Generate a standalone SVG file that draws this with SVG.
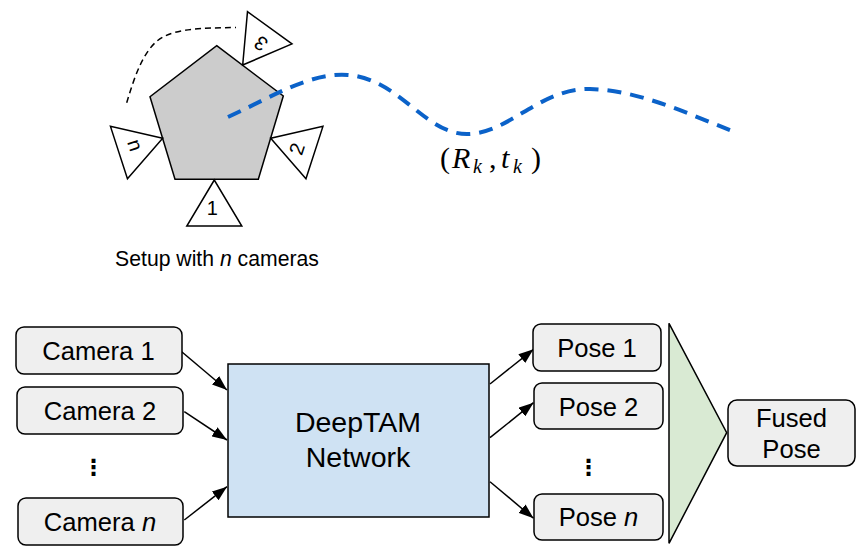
<svg xmlns="http://www.w3.org/2000/svg" width="868" height="560" viewBox="0 0 868 560">
<style>
.box{fill:#efefef;stroke:#000;stroke-width:1.5}
.lbl{font-family:"Liberation Sans",Arial,sans-serif;font-size:25.6px;fill:#000;text-anchor:middle}
.big{font-size:28.5px}
.tri{fill:#fff;stroke:#000;stroke-width:1.5}
.tl{font-family:"Liberation Sans",Arial,sans-serif;font-size:20px;fill:#000;text-anchor:middle}
.arr{stroke:#000;stroke-width:1.5;fill:none;marker-end:url(#ah)}
.dots{font-family:"DejaVu Sans",sans-serif;font-size:22px;font-weight:bold;fill:#000;text-anchor:middle}
.m{font-family:"Liberation Serif","Times New Roman",serif;fill:#000;font-size:30px}
.mi{font-style:italic}
.sub{font-style:italic;font-size:20px}
.cap{font-family:"Liberation Sans",Arial,sans-serif;font-size:21.2px;fill:#000;text-anchor:middle}
</style>
<defs>
<marker id="ah" markerWidth="15" markerHeight="11" refX="15" refY="5.5" orient="auto" markerUnits="userSpaceOnUse">
<path d="M0,0 L15,5.5 L0,11 z" fill="#000"/>
</marker>
</defs>
<rect width="868" height="560" fill="#fff"/>

<g id="setup">
<path id="cam-path" d="M126.7,102.7 C135,75 145,45 165,36 C180,29 200,28 236,27.5" fill="none" stroke="#000" stroke-width="1.5" stroke-dasharray="6,4"/>
<polygon id="rig" points="216.7,45.7 283.3,96 258.3,179.3 175,179.3 150,96.7" fill="#cccccc" stroke="#000" stroke-width="1.5"/>
<g id="cam1" transform="translate(214.3,180)"><polygon class="tri" points="0,0 -27.5,46 27.5,46"/><text class="tl" x="-2" y="35">1</text></g>
<g id="cam2" transform="translate(270.7,138.3) rotate(-72)"><polygon class="tri" points="0,0 -27.5,46 27.5,46"/><text class="tl" x="-2" y="35">2</text></g>
<g id="camn" transform="translate(162.7,138.3) rotate(72)"><polygon class="tri" points="0,0 -27.5,46 27.5,46"/><text class="tl" x="-2" y="35">n</text></g>
<g id="cam3" transform="translate(242.7,65) rotate(216)"><polygon class="tri" points="0,0 -27.5,46 27.5,46"/><text class="tl" x="-2" y="35">3</text></g>
<path id="traj" d="M228,117 C270,98 310,72 348,75 C400,79 425,135 468,134 C510,133 540,88 590,89 C640,90 690,115 735,132" fill="none" stroke="#0b62c9" stroke-width="4" stroke-dasharray="14,9"/>
<text class="m" y="168"><tspan x="440">(</tspan><tspan x="452" class="mi">R</tspan><tspan x="473" y="173" class="sub">k</tspan><tspan x="489" y="168">,</tspan><tspan x="501" class="mi">t</tspan><tspan x="513" y="173" class="sub">k</tspan><tspan x="531" y="168">)</tspan></text>
<text class="cap" x="217" y="266">Setup with <tspan font-style="italic">n</tspan> cameras</text>
</g>

<g id="connectors">
<line class="arr" x1="181.7" y1="351.7" x2="227" y2="390"/>
<line class="arr" x1="184.3" y1="411.7" x2="227" y2="440"/>
<line class="arr" x1="184.3" y1="520" x2="227" y2="486.7"/>
<line class="arr" x1="490" y1="384" x2="533.5" y2="349.3"/>
<line class="arr" x1="490" y1="437.7" x2="533.5" y2="402.7"/>
<line class="arr" x1="490" y1="481.7" x2="533.5" y2="518.3"/>
</g>

<g id="camera1"><rect class="box" x="16" y="327" width="166" height="47" rx="8"/><text class="lbl" x="98.5" y="360">Camera 1</text></g>
<g id="camera2"><rect class="box" x="17" y="387" width="166" height="47" rx="8"/><text class="lbl" x="100" y="420">Camera 2</text></g>
<g id="cam-dots"><text class="dots" x="93.5" y="475">⋮</text></g>
<g id="cameran"><rect class="box" x="18" y="498" width="165" height="47" rx="8"/><text class="lbl" x="100" y="531">Camera <tspan font-style="italic">n</tspan></text></g>

<g id="deeptam"><rect x="228" y="364" width="261" height="153" fill="#cfe2f3" stroke="#000" stroke-width="1.5"/><text class="lbl big" x="358" y="432">DeepTAM</text><text class="lbl big" x="358" y="467">Network</text></g>

<g id="pose1"><rect class="box" x="533" y="324" width="128" height="47" rx="8"/><text class="lbl" x="597" y="357">Pose 1</text></g>
<g id="pose2"><rect class="box" x="534" y="383" width="129" height="46" rx="8"/><text class="lbl" x="598.5" y="415.5">Pose 2</text></g>
<g id="pose-dots"><text class="dots" x="588.5" y="475">⋮</text></g>
<g id="posen"><rect class="box" x="534" y="494" width="129" height="46" rx="8"/><text class="lbl" x="598.5" y="526">Pose <tspan font-style="italic">n</tspan></text></g>

<g id="fusion"><polygon points="669,323.3 726.7,432.7 669,543.3" fill="#d9ead3" stroke="#000" stroke-width="1.5"/></g>
<g id="fused"><rect class="box" x="728" y="400" width="127" height="66" rx="9"/><text class="lbl" x="791.5" y="426.5">Fused</text><text class="lbl" x="791.5" y="457.5">Pose</text></g>
</svg>
